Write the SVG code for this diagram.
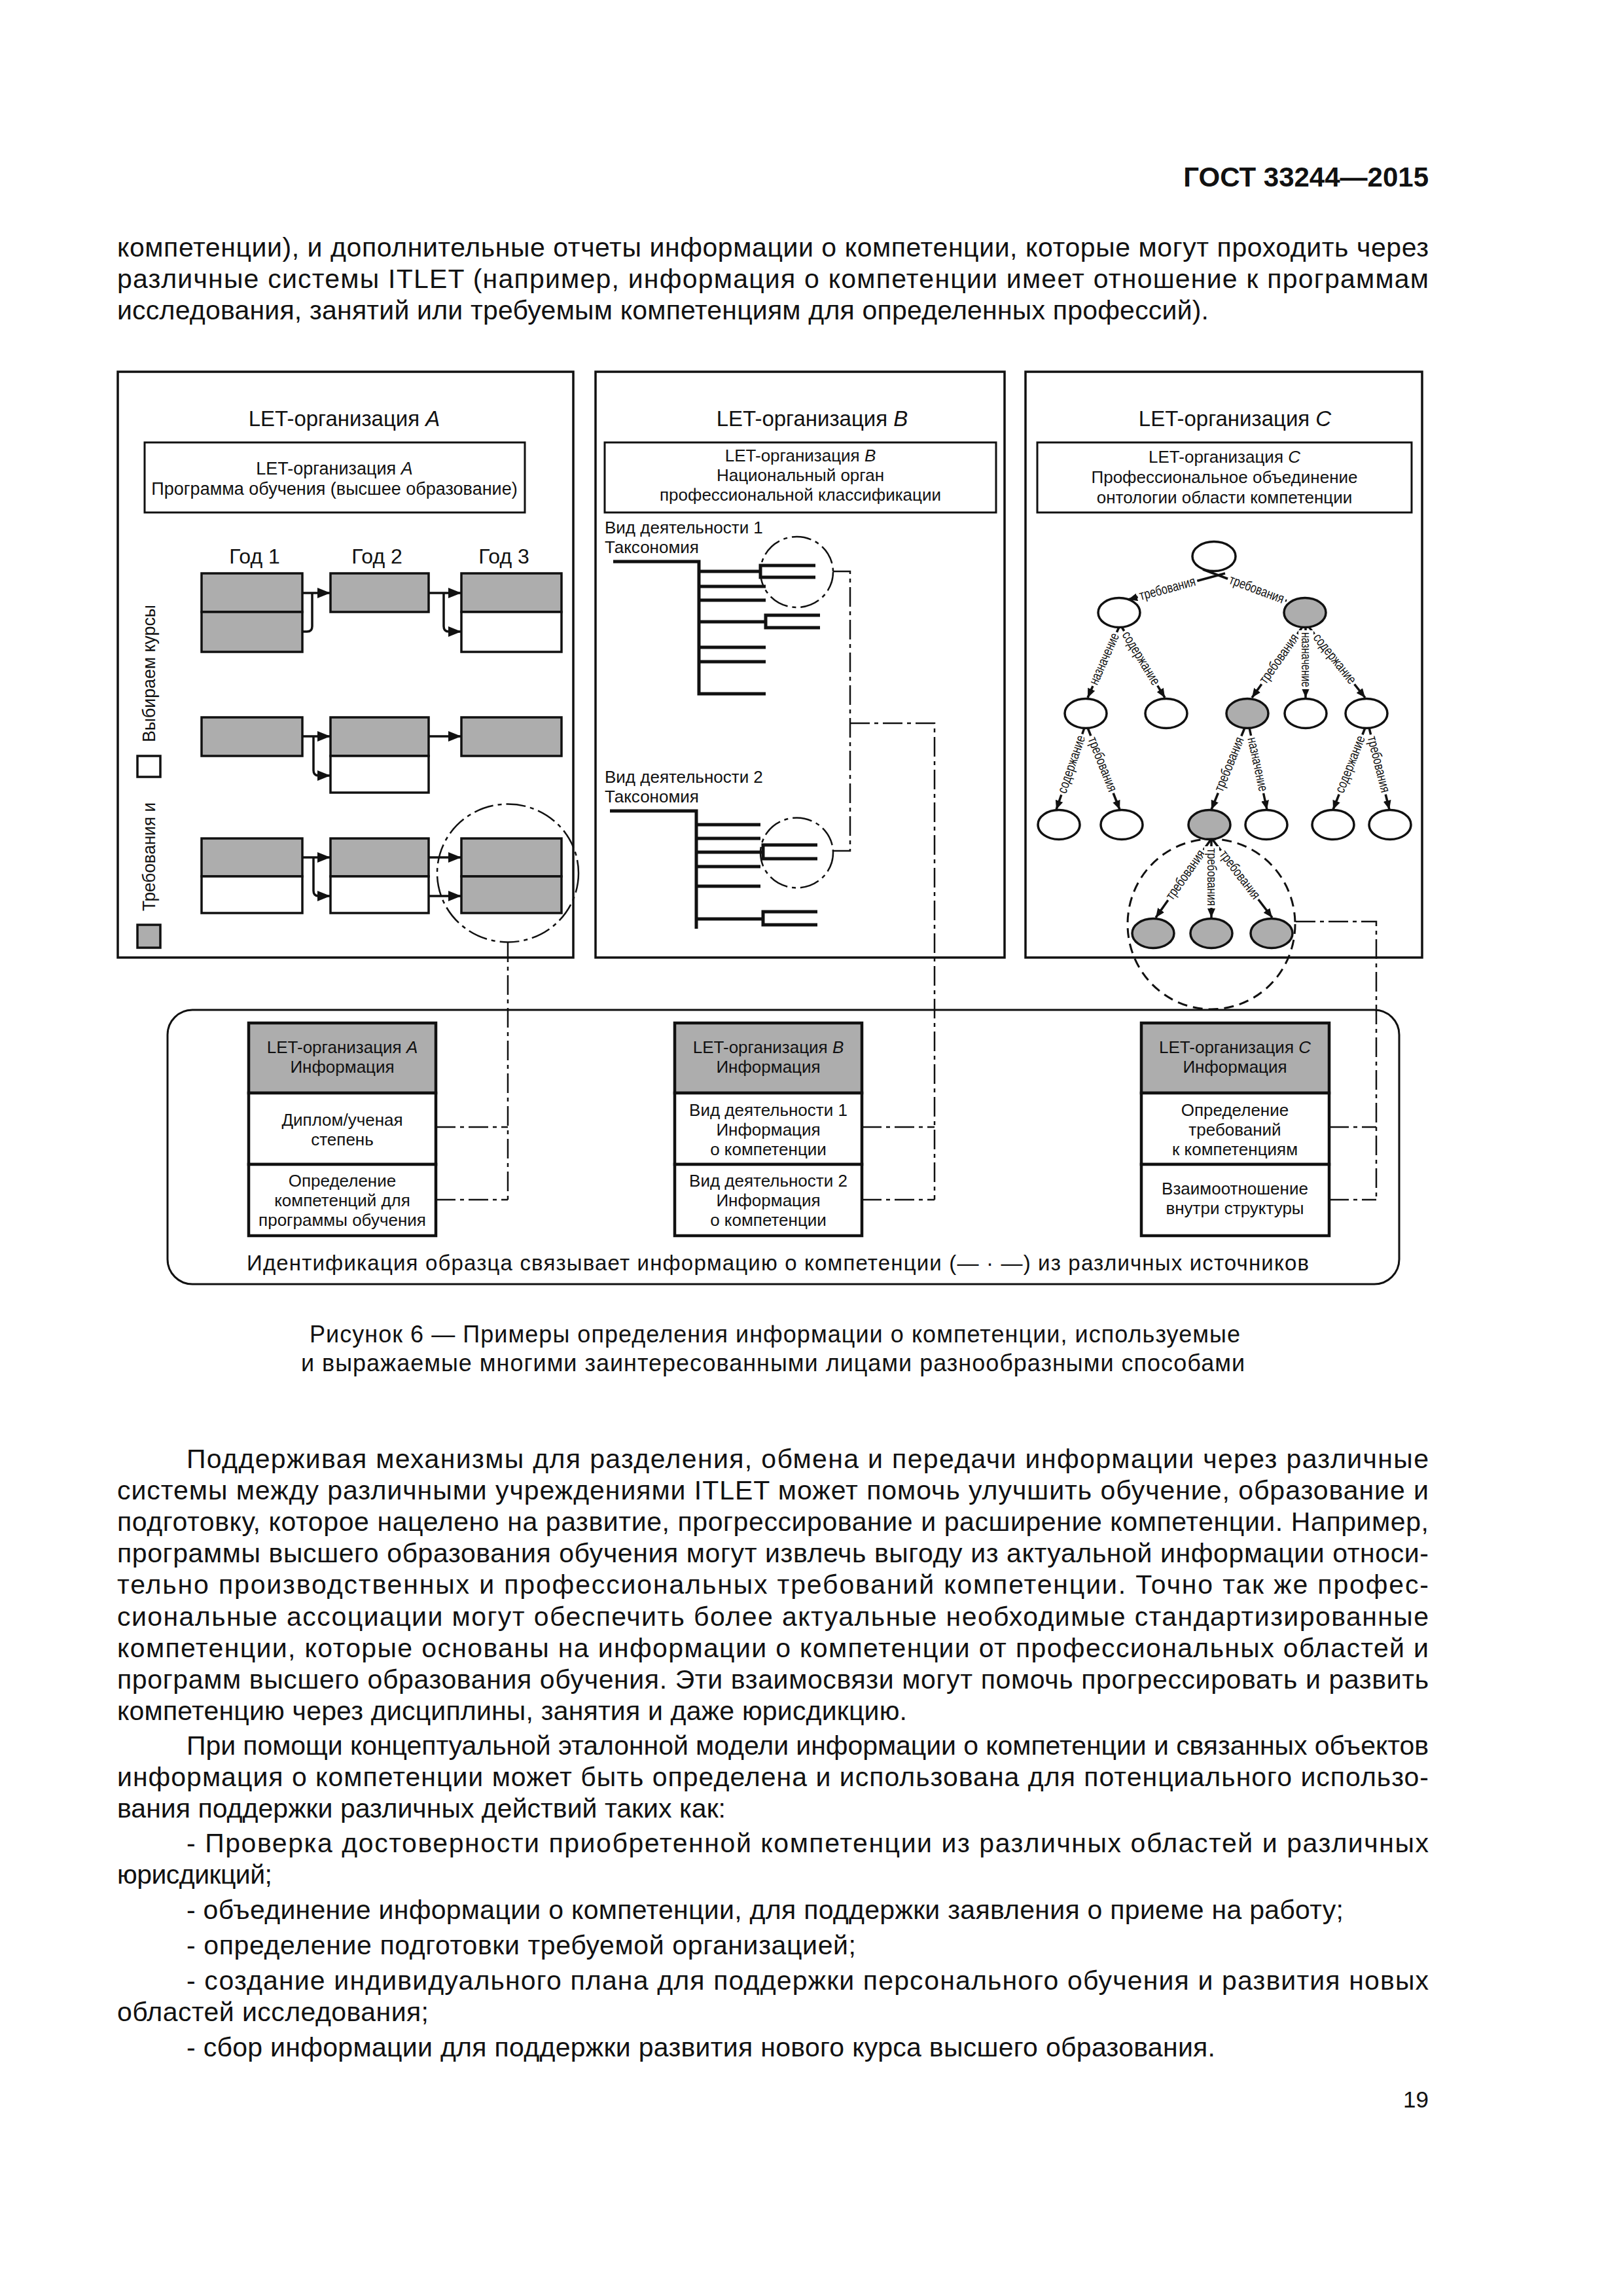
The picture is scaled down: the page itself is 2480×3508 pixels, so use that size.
<svg xmlns="http://www.w3.org/2000/svg" width="2480" height="3508" viewBox="0 0 2480 3508">
<defs>
<style>
text{font-family:"Liberation Sans",Arial,sans-serif;fill:#111}
.b{font-size:41px}
.pn{fill:none;stroke:#111;stroke-width:3.5}
.ib{fill:#fff;stroke:#111;stroke-width:3}
.cg{fill:#adadad;stroke:#111;stroke-width:3.5}
.cw{fill:#fff;stroke:#111;stroke-width:3.5}
.ln{fill:none;stroke:#111;stroke-width:3.5;stroke-linejoin:round}
.tr{fill:none;stroke:#111;stroke-width:5}
.dd{fill:none;stroke:#111;stroke-width:2.5;stroke-dasharray:30 7 6 7}
.dc{fill:none;stroke:#111;stroke-width:3;stroke-dasharray:15 9}
.nw{fill:#fff;stroke:#111;stroke-width:3.5}
.ng{fill:#adadad;stroke:#111;stroke-width:3.5}
.lab rect{fill:#fff}
.lab text{font-size:21px}
.ob{fill:#fff;stroke:#111;stroke-width:4.5}
.oh{fill:#adadad;stroke:#111;stroke-width:4.5}
.ot{font-size:26px;text-anchor:middle}
.mid{text-anchor:middle}
</style>
<marker id="ah" markerUnits="userSpaceOnUse" markerWidth="20" markerHeight="16" refX="20" refY="8" orient="auto" viewBox="0 0 20 16"><path d="M0,0 L20,8 L0,16 z" fill="#111"/></marker>
<marker id="ac" markerUnits="userSpaceOnUse" markerWidth="14" markerHeight="12" refX="14" refY="6" orient="auto" viewBox="0 0 14 12"><path d="M0,0 L14,6 L0,12 z" fill="#111"/></marker>
</defs>
<rect x="0" y="0" width="2480" height="3508" fill="#fff"/>

<g id="page-header">
<text x="2183" y="285" font-size="42" font-weight="bold" text-anchor="end">ГОСТ 33244—2015</text>
</g>

<g id="text-top" class="b">
<text class="b" x="179" y="392" textLength="2004" lengthAdjust="spacing">компетенции), и дополнительные отчеты информации о компетенции, которые могут проходить через</text>
<text class="b" x="179" y="440" textLength="2004" lengthAdjust="spacing">различные системы ITLET (например, информация о компетенции имеет отношение к программам</text>
<text class="b" x="179" y="488" textLength="1668" lengthAdjust="spacing">исследования, занятий или требуемым компетенциям для определенных профессий).</text>
</g>

<!-- Panel A -->
<g id="panelA">
<rect class="pn" x="180" y="568" width="696" height="895"/>
<text x="526" y="651" font-size="33" class="mid">LET-организация <tspan font-style="italic">A</tspan></text>
<rect class="ib" x="221" y="676" width="581" height="107"/>
<text x="511" y="725" font-size="27" class="mid">LET-организация <tspan font-style="italic">A</tspan></text>
<text x="511" y="756" font-size="27" class="mid">Программа обучения (высшее образование)</text>
<text x="389" y="861" font-size="32" class="mid">Год 1</text>
<text x="576" y="861" font-size="32" class="mid">Год 2</text>
<text x="770" y="861" font-size="32" class="mid">Год 3</text>
<g id="courses">
<rect class="cg" x="308" y="876" width="154" height="59"/>
<rect class="cg" x="308" y="935" width="154" height="61"/>
<rect class="cg" x="505" y="876" width="150" height="59"/>
<rect class="cg" x="705" y="876" width="153" height="59"/>
<rect class="cw" x="705" y="935" width="153" height="61"/>
<rect class="cg" x="308" y="1096" width="154" height="59"/>
<rect class="cg" x="505" y="1096" width="150" height="59"/>
<rect class="cw" x="505" y="1155" width="150" height="56"/>
<rect class="cg" x="705" y="1096" width="153" height="59"/>
<rect class="cg" x="308" y="1281" width="154" height="58"/>
<rect class="cw" x="308" y="1339" width="154" height="56"/>
<rect class="cg" x="505" y="1281" width="150" height="58"/>
<rect class="cw" x="505" y="1339" width="150" height="56"/>
<rect class="cg" x="705" y="1281" width="153" height="58"/>
<rect class="cg" x="705" y="1339" width="153" height="56"/>
</g>
<g id="legend">
<rect class="cw" x="210" y="1155" width="35" height="32"/>
<rect class="cg" x="210" y="1413" width="35" height="35"/>
<text transform="translate(237,1392) rotate(-90)" font-size="28" textLength="166" lengthAdjust="spacingAndGlyphs">Требования и</text>
<text transform="translate(237,1134) rotate(-90)" font-size="28" textLength="210" lengthAdjust="spacingAndGlyphs">Выбираем курсы</text>
</g>
</g>

<!-- Panel B -->
<g id="panelB">
<rect class="pn" x="910" y="568" width="625" height="895"/>
<text x="1241" y="651" font-size="33" class="mid">LET-организация <tspan font-style="italic">B</tspan></text>
<rect class="ib" x="924" y="676" width="598" height="107"/>
<text x="1223" y="705" font-size="26" class="mid">LET-организация <tspan font-style="italic">B</tspan></text>
<text x="1223" y="735" font-size="26" class="mid">Национальный орган</text>
<text x="1223" y="765" font-size="26" class="mid">профессиональной классификации</text>
<text x="924" y="815" font-size="26">Вид деятельности 1</text>
<text x="924" y="845" font-size="26">Таксономия</text>
<text x="924" y="1196" font-size="26">Вид деятельности 2</text>
<text x="924" y="1226" font-size="26">Таксономия</text>
<g id="taxonomy1">
<path class="tr" d="M937,858 H1068 V1060 H1170"/>
<path class="tr" d="M1068,873 H1162 M1246,864 H1162 V882 H1246"/>
<path class="tr" d="M1068,896 H1170 M1068,917 H1170"/>
<path class="tr" d="M1068,950 H1170 M1253,940 H1170 V959 H1253"/>
<path class="tr" d="M1068,989 H1170 M1068,1011 H1170"/>
</g>
<g id="taxonomy2">
<path class="tr" d="M932,1239 H1064 V1419"/>
<path class="tr" d="M1064,1260 H1162 M1064,1281 H1162"/>
<path class="tr" d="M1064,1302 H1166 M1249,1291 H1166 V1312 H1249"/>
<path class="tr" d="M1064,1324 H1162 M1064,1354 H1162"/>
<path class="tr" d="M1064,1404 H1166 M1249,1393 H1166 V1413 H1249"/>
</g>
<ellipse class="dd" cx="1217.5" cy="874" rx="55.5" ry="54"/>
<ellipse class="dd" cx="1217.5" cy="1303" rx="55.5" ry="53.5"/>
</g>

<!-- Panel C -->
<g id="panelC">
<rect class="pn" x="1567" y="568" width="606" height="895"/>
<text x="1887" y="651" font-size="33" class="mid">LET-организация <tspan font-style="italic">C</tspan></text>
<rect class="ib" x="1585" y="676" width="572" height="107"/>
<text x="1871" y="707" font-size="26" class="mid">LET-организация <tspan font-style="italic">C</tspan></text>
<text x="1871" y="738" font-size="26" class="mid">Профессиональное объединение</text>
<text x="1871" y="769" font-size="26" class="mid">онтологии области компетенции</text>
</g>

<g id="ontology-edges">
<path class="ln" marker-end="url(#ac)" d="M1872,876 L1724,916"/>
<path class="ln" marker-end="url(#ac)" d="M1838,870 L1966,918"/>
<path class="ln" marker-end="url(#ac)" d="M1710,958 L1662,1066"/>
<path class="ln" marker-end="url(#ac)" d="M1714,958 L1780,1066"/>
<path class="ln" marker-end="url(#ac)" d="M1990,958 L1913,1066"/>
<path class="ln" marker-end="url(#ac)" d="M1995,958 L1995,1066"/>
<path class="ln" marker-end="url(#ac)" d="M2000,958 L2086,1066"/>
<path class="ln" marker-end="url(#ac)" d="M1657,1112 L1614,1237"/>
<path class="ln" marker-end="url(#ac)" d="M1662,1112 L1711,1237"/>
<path class="ln" marker-end="url(#ac)" d="M1902,1112 L1851,1237"/>
<path class="ln" marker-end="url(#ac)" d="M1909,1112 L1936,1237"/>
<path class="ln" marker-end="url(#ac)" d="M2086,1112 L2037,1237"/>
<path class="ln" marker-end="url(#ac)" d="M2092,1112 L2123,1237"/>
<path class="ln" marker-end="url(#ac)" d="M1850,1283 L1766,1402"/>
<path class="ln" marker-end="url(#ac)" d="M1851,1283 L1851,1402"/>
<path class="ln" marker-end="url(#ac)" d="M1853,1283 L1944,1402"/>
<g class="lab" transform="translate(1784,900) rotate(-15.1)"><rect x="-47" y="-12" width="94" height="23"/><text x="-44" y="6" textLength="88" lengthAdjust="spacingAndGlyphs">требования</text></g>
<g class="lab" transform="translate(1920,901) rotate(20.6)"><rect x="-47" y="-12" width="94" height="23"/><text x="-44" y="6" textLength="88" lengthAdjust="spacingAndGlyphs">требования</text></g>
<g class="lab" transform="translate(1688,1007) rotate(-66)"><rect x="-45" y="-12" width="90" height="23"/><text x="-42" y="6" textLength="84" lengthAdjust="spacingAndGlyphs">назначение</text></g>
<g class="lab" transform="translate(1743,1006) rotate(58.6)"><rect x="-49" y="-12" width="98" height="23"/><text x="-46" y="6" textLength="92" lengthAdjust="spacingAndGlyphs">содержание</text></g>
<g class="lab" transform="translate(1955,1007) rotate(-54.5)"><rect x="-47" y="-12" width="94" height="23"/><text x="-44" y="6" textLength="88" lengthAdjust="spacingAndGlyphs">требования</text></g>
<g class="lab" transform="translate(1995,1008) rotate(90)"><rect x="-45" y="-12" width="90" height="23"/><text x="-42" y="6" textLength="84" lengthAdjust="spacingAndGlyphs">назначение</text></g>
<g class="lab" transform="translate(2039,1007) rotate(51.5)"><rect x="-49" y="-12" width="98" height="23"/><text x="-46" y="6" textLength="92" lengthAdjust="spacingAndGlyphs">содержание</text></g>
<g class="lab" transform="translate(1638,1168) rotate(-71)"><rect x="-49" y="-12" width="98" height="23"/><text x="-46" y="6" textLength="92" lengthAdjust="spacingAndGlyphs">содержание</text></g>
<g class="lab" transform="translate(1684,1168) rotate(68.6)"><rect x="-47" y="-12" width="94" height="23"/><text x="-44" y="6" textLength="88" lengthAdjust="spacingAndGlyphs">требования</text></g>
<g class="lab" transform="translate(1879,1168) rotate(-67.8)"><rect x="-47" y="-12" width="94" height="23"/><text x="-44" y="6" textLength="88" lengthAdjust="spacingAndGlyphs">требования</text></g>
<g class="lab" transform="translate(1921,1168) rotate(77.8)"><rect x="-45" y="-12" width="90" height="23"/><text x="-42" y="6" textLength="84" lengthAdjust="spacingAndGlyphs">назначение</text></g>
<g class="lab" transform="translate(2064,1168) rotate(-68.6)"><rect x="-49" y="-12" width="98" height="23"/><text x="-46" y="6" textLength="92" lengthAdjust="spacingAndGlyphs">содержание</text></g>
<g class="lab" transform="translate(2106,1168) rotate(76)"><rect x="-47" y="-12" width="94" height="23"/><text x="-44" y="6" textLength="88" lengthAdjust="spacingAndGlyphs">требования</text></g>
<g class="lab" transform="translate(1812,1337) rotate(-54.8)"><rect x="-47" y="-12" width="94" height="23"/><text x="-44" y="6" textLength="88" lengthAdjust="spacingAndGlyphs">требования</text></g>
<g class="lab" transform="translate(1851,1340) rotate(90)"><rect x="-47" y="-12" width="94" height="23"/><text x="-44" y="6" textLength="88" lengthAdjust="spacingAndGlyphs">требования</text></g>
<g class="lab" transform="translate(1894,1337) rotate(52.6)"><rect x="-47" y="-12" width="94" height="23"/><text x="-44" y="6" textLength="88" lengthAdjust="spacingAndGlyphs">требования</text></g>
</g>

<g id="ontology-nodes">
<ellipse id="n-root" class="nw" cx="1855" cy="850" rx="33" ry="22.5"/>
<ellipse id="n-1a" class="nw" cx="1710" cy="936" rx="32" ry="22.5"/>
<ellipse id="n-1b" class="ng" cx="1994" cy="936" rx="32" ry="22.5"/>
<ellipse id="n-2a" class="nw" cx="1659" cy="1090" rx="32" ry="22.5"/>
<ellipse id="n-2b" class="nw" cx="1782" cy="1090" rx="32" ry="22.5"/>
<ellipse id="n-2c" class="ng" cx="1906" cy="1090" rx="32" ry="22.5"/>
<ellipse id="n-2d" class="nw" cx="1995" cy="1090" rx="32" ry="22.5"/>
<ellipse id="n-2e" class="nw" cx="2088" cy="1090" rx="32" ry="22.5"/>
<ellipse id="n-3a" class="nw" cx="1618" cy="1260" rx="32" ry="22.5"/>
<ellipse id="n-3b" class="nw" cx="1714" cy="1260" rx="32" ry="22.5"/>
<ellipse id="n-3c" class="ng" cx="1848" cy="1260" rx="32" ry="22.5"/>
<ellipse id="n-3d" class="nw" cx="1935" cy="1260" rx="32" ry="22.5"/>
<ellipse id="n-3e" class="nw" cx="2037" cy="1260" rx="32" ry="22.5"/>
<ellipse id="n-3f" class="nw" cx="2124" cy="1260" rx="32" ry="22.5"/>
<ellipse id="n-4a" class="ng" cx="1762" cy="1426" rx="32" ry="22.5"/>
<ellipse id="n-4b" class="ng" cx="1851" cy="1426" rx="32" ry="22.5"/>
<ellipse id="n-4c" class="ng" cx="1943" cy="1426" rx="32" ry="22.5"/>
</g>

<!-- Bottom: information boxes -->
<g id="bottom-frame">
<rect x="256" y="1543" width="1882" height="419" rx="38" ry="38" fill="none" stroke="#111" stroke-width="3"/>
<text x="377" y="1941" font-size="33" textLength="1623" lengthAdjust="spacing">Идентификация образца связывает информацию о компетенции (— · —) из различных источников</text>
</g>

<g id="infoA">
<rect class="oh" x="380" y="1563" width="286" height="107"/>
<rect class="ob" x="380" y="1670" width="286" height="109"/>
<rect class="ob" x="380" y="1779" width="286" height="109"/>
<text class="ot" x="523" y="1609">LET-организация <tspan font-style="italic">A</tspan></text>
<text class="ot" x="523" y="1639">Информация</text>
<text class="ot" x="523" y="1720">Диплом/ученая</text>
<text class="ot" x="523" y="1750">степень</text>
<text class="ot" x="523" y="1813">Определение</text>
<text class="ot" x="523" y="1843">компетенций для</text>
<text class="ot" x="523" y="1873">программы обучения</text>
</g>

<g id="infoB">
<rect class="oh" x="1031" y="1563" width="286" height="107"/>
<rect class="ob" x="1031" y="1670" width="286" height="109"/>
<rect class="ob" x="1031" y="1779" width="286" height="109"/>
<text class="ot" x="1174" y="1609">LET-организация <tspan font-style="italic">B</tspan></text>
<text class="ot" x="1174" y="1639">Информация</text>
<text class="ot" x="1174" y="1705">Вид деятельности 1</text>
<text class="ot" x="1174" y="1735">Информация</text>
<text class="ot" x="1174" y="1765">о компетенции</text>
<text class="ot" x="1174" y="1813">Вид деятельности 2</text>
<text class="ot" x="1174" y="1843">Информация</text>
<text class="ot" x="1174" y="1873">о компетенции</text>
</g>

<g id="infoC">
<rect class="oh" x="1744" y="1563" width="287" height="107"/>
<rect class="ob" x="1744" y="1670" width="287" height="109"/>
<rect class="ob" x="1744" y="1779" width="287" height="109"/>
<text class="ot" x="1887" y="1609">LET-организация <tspan font-style="italic">C</tspan></text>
<text class="ot" x="1887" y="1639">Информация</text>
<text class="ot" x="1887" y="1705">Определение</text>
<text class="ot" x="1887" y="1735">требований</text>
<text class="ot" x="1887" y="1765">к компетенциям</text>
<text class="ot" x="1887" y="1825">Взаимоотношение</text>
<text class="ot" x="1887" y="1855">внутри структуры</text>
</g>

<g id="connectors">
<path class="ln" marker-end="url(#ah)" d="M462,906 H505"/>
<path class="ln" d="M462,965 H469 Q477,965 477,957 V906"/>
<path class="ln" marker-end="url(#ah)" d="M655,906 H705"/>
<path class="ln" marker-end="url(#ah)" d="M678,906 V957 Q678,965 686,965 H705"/>
<path class="ln" marker-end="url(#ah)" d="M462,1125 H505"/>
<path class="ln" marker-end="url(#ah)" d="M479,1125 V1177 Q479,1185 487,1185 H505"/>
<path class="ln" marker-end="url(#ah)" d="M655,1125 H705"/>
<path class="ln" marker-end="url(#ah)" d="M462,1310 H505"/>
<path class="ln" marker-end="url(#ah)" d="M479,1310 V1361 Q479,1369 487,1369 H505"/>
<path class="ln" marker-end="url(#ah)" d="M655,1310 H705"/>
<path class="ln" marker-end="url(#ah)" d="M655,1369 H705"/>
<ellipse class="dd" cx="776" cy="1334" rx="108" ry="105.5"/>
<ellipse class="dc" cx="1851" cy="1412" rx="128" ry="130"/>
<path class="dd" d="M776,1440 V1833 M666,1722 H776 M666,1833 H776"/>
<path class="dd" d="M1273,873 H1299 V1300 H1273 M1299,1105 H1428 V1833 M1317,1722 H1428 M1317,1833 H1428"/>
<path class="dd" d="M1980,1408 H2103 V1833 M2031,1722 H2103 M2031,1833 H2103"/>
</g>

<g id="caption">
<text x="473" y="2051" font-size="36" textLength="1422" lengthAdjust="spacing">Рисунок  6 — Примеры определения информации о компетенции, используемые</text>
<text x="460" y="2095" font-size="36" textLength="1442" lengthAdjust="spacing">и выражаемые многими заинтересованными лицами разнообразными способами</text>
</g>

<g id="text-body">
<text class="b" x="285" y="2243" textLength="1898" lengthAdjust="spacing">Поддерживая механизмы для разделения, обмена и передачи информации через различные</text>
<text class="b" x="179" y="2291" textLength="2004" lengthAdjust="spacing">системы между различными учреждениями ITLET может помочь улучшить обучение, образование и</text>
<text class="b" x="179" y="2339" textLength="2004" lengthAdjust="spacing">подготовку, которое нацелено на развитие, прогрессирование и расширение компетенции. Например,</text>
<text class="b" x="179" y="2387" textLength="2004" lengthAdjust="spacing">программы высшего образования обучения могут извлечь выгоду из актуальной информации относи-</text>
<text class="b" x="179" y="2435" textLength="2004" lengthAdjust="spacing">тельно производственных и профессиональных требований компетенции. Точно так же профес-</text>
<text class="b" x="179" y="2484" textLength="2004" lengthAdjust="spacing">сиональные ассоциации могут обеспечить более актуальные необходимые стандартизированные</text>
<text class="b" x="179" y="2532" textLength="2004" lengthAdjust="spacing">компетенции, которые основаны на информации о компетенции от профессиональных областей и</text>
<text class="b" x="179" y="2580" textLength="2004" lengthAdjust="spacing">программ высшего образования обучения. Эти взаимосвязи могут помочь прогрессировать и развить</text>
<text class="b" x="179" y="2628" textLength="1207" lengthAdjust="spacing">компетенцию через дисциплины, занятия и даже юрисдикцию.</text>
<text class="b" x="285" y="2681" textLength="1898" lengthAdjust="spacing">При помощи концептуальной эталонной модели информации о компетенции и связанных объектов</text>
<text class="b" x="179" y="2729" textLength="2004" lengthAdjust="spacing">информация о компетенции может быть определена и использована для потенциального использо-</text>
<text class="b" x="179" y="2777" textLength="930" lengthAdjust="spacing">вания поддержки различных действий таких как:</text>
<text class="b" x="285" y="2830" textLength="1898" lengthAdjust="spacing">- Проверка достоверности приобретенной компетенции из различных областей и различных</text>
<text class="b" x="179" y="2878" textLength="237" lengthAdjust="spacing">юрисдикций;</text>
<text class="b" x="285" y="2932" textLength="1768" lengthAdjust="spacing">-  объединение информации о компетенции, для поддержки заявления о приеме на работу;</text>
<text class="b" x="285" y="2986" textLength="1023" lengthAdjust="spacing">-  определение подготовки требуемой организацией;</text>
<text class="b" x="285" y="3040" textLength="1898" lengthAdjust="spacing">- создание индивидуального плана для поддержки персонального обучения и развития новых</text>
<text class="b" x="179" y="3088" textLength="476" lengthAdjust="spacing">областей исследования;</text>
<text class="b" x="285" y="3142" textLength="1572" lengthAdjust="spacing">-  сбор информации для поддержки развития нового курса высшего образования.</text>
</g>

<g id="page-number">
<text x="2183" y="3220" font-size="35" text-anchor="end">19</text>
</g>
</svg>
